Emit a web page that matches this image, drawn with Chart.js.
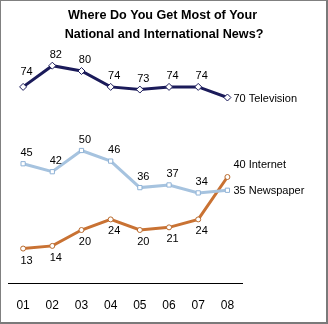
<!DOCTYPE html>
<html>
<head>
<meta charset="utf-8">
<script src="https://cdn.jsdelivr.net/npm/chart.js@4/dist/chart.umd.min.js"></script>
<style>
  html, body { margin: 0; padding: 0; background: #fff; }
  #frame {
    width: 328px; height: 324px; box-sizing: border-box;
    border-left: 1px solid #808080; border-top: 1px solid #808080;
    border-right: 2px solid #7a7a7a; border-bottom: 2px solid #7a7a7a;
    position: relative;
  }
  #box { position: absolute; left: 0; top: 0; width: 325px; height: 321px; }
</style>
</head>
<body>
<div id="frame"><div id="box"><canvas id="newsChart"></canvas></div></div>
<script>
const years = ["01", "02", "03", "04", "05", "06", "07", "08"];
const television = [74, 82, 80, 74, 73, 74, 74, 70];
const newspaper = [45, 42, 50, 46, 36, 37, 34, 35];
const internet = [13, 14, 20, 24, 20, 21, 24, 40];
const seriesNames = ["Television", "Newspaper", "Internet"];
const titleLines = ["Where Do You Get Most of Your", "National and International News?"];

const family = "'Liberation Sans', Arial, sans-serif";
const labelFont = "11px " + family;

// two-line bold title at the top
const titleText = {
  id: "titleText",
  beforeDraw(chart) {
    const ctx = chart.ctx;
    ctx.save();
    ctx.font = "bold 12.6px " + family;
    ctx.fillStyle = "#000";
    ctx.textAlign = "center";
    ctx.textBaseline = "alphabetic";
    ctx.fillText(titleLines[0], 161.5, 17.5);
    ctx.fillText(titleLines[1], 163, 37);
    ctx.restore();
  }
};

// value labels next to each point, series name at the last point
const pointLabels = {
  id: "pointLabels",
  afterDatasetsDraw(chart) {
    const ctx = chart.ctx;
    ctx.save();
    ctx.font = labelFont;
    ctx.fillStyle = "#000";
    ctx.textBaseline = "middle";
    chart.data.datasets.forEach((ds, i) => {
      const meta = chart.getDatasetMeta(i);
      const below = ds.label === "Internet";
      meta.data.forEach((pt, j) => {
        const v = ds.data[j];
        if (j === ds.data.length - 1) {
          ctx.textAlign = "left";
          const dy = below ? -12 : 1;
          ctx.fillText(v + " " + ds.label, pt.x + 6, pt.y + dy);
        } else {
          ctx.textAlign = "center";
          let dy = below ? 12 : -11;
          if (i === 0 && j === 0) dy = -15;
          ctx.fillText(String(v), pt.x + 3.5, pt.y + dy);
        }
      });
    });
    ctx.restore();
  }
};

new Chart(document.getElementById("newsChart"), {
  type: "line",
  data: {
    labels: years,
    datasets: [
      {
        label: seriesNames[0],
        data: television,
        borderColor: "#1b1b5a",
        borderWidth: 3,
        pointStyle: "rectRot",
        pointRadius: 3.5,
        pointBackgroundColor: "#fff",
        pointBorderColor: "#1b1b5a",
        pointBorderWidth: 1
      },
      {
        label: seriesNames[1],
        data: newspaper,
        borderColor: "#a6c3df",
        borderWidth: 3,
        pointStyle: "rect",
        pointRadius: 3,
        pointBackgroundColor: "#fff",
        pointBorderColor: "#8fb2d6",
        pointBorderWidth: 1
      },
      {
        label: seriesNames[2],
        data: internet,
        borderColor: "#c97233",
        borderWidth: 3,
        pointStyle: "circle",
        pointRadius: 2.5,
        pointBackgroundColor: "#fff",
        pointBorderColor: "#b86a2e",
        pointBorderWidth: 1
      }
    ]
  },
  options: {
    responsive: true,
    maintainAspectRatio: false,
    animation: false,
    events: [],
    layout: { padding: { left: 7, right: 84, top: 43.5, bottom: 9 } },
    plugins: {
      legend: { display: false },
      tooltip: { enabled: false },
      title: { display: false }
    },
    scales: {
      x: {
        offset: true,
        grid: { display: false, drawTicks: false },
        border: { display: true, color: "#000", width: 1 },
        ticks: { color: "#000", font: { family: family, size: 12 }, padding: 15 },
        afterFit(scale) { scale.height = 30; }
      },
      y: {
        display: false,
        min: 0,
        max: 90
      }
    }
  },
  plugins: [titleText, pointLabels]
});
</script>
</body>
</html>
